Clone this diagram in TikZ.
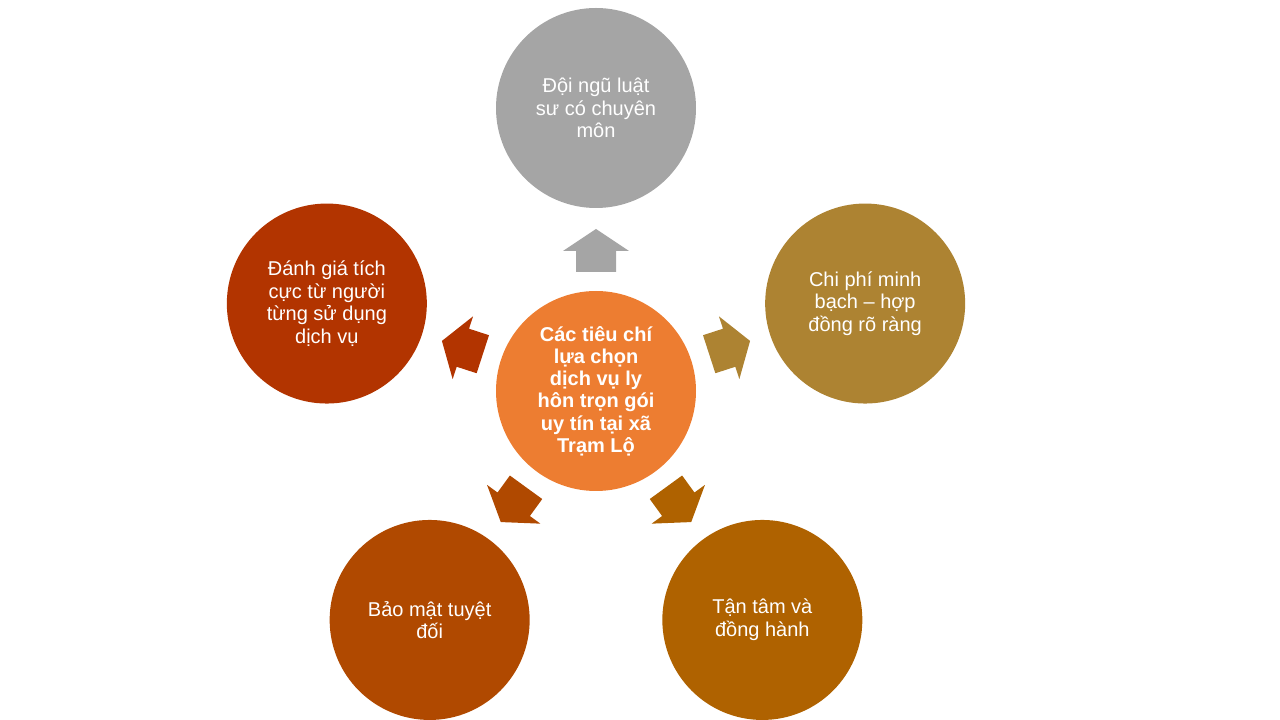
\documentclass[tikz,border=0pt]{standalone}
\usepackage{fontspec}
\setmainfont{Liberation Sans}
\usetikzlibrary{calc, math}

\definecolor{cam}{HTML}{ED7D31}
\definecolor{xam}{HTML}{A5A5A5}
\definecolor{vang}{HTML}{AD8332}
\definecolor{nau}{HTML}{AF6200}
\definecolor{naudo}{HTML}{B04900}
\definecolor{do}{HTML}{B23400}

\begin{document}
\begin{tikzpicture}[x=0.75pt, y=0.75pt,
  vong/.style={circle, fill=#1, minimum size=150pt, inner sep=0pt, text=white, align=center,
    font=\fontsize{15}{16.9}\selectfont}]

\tikzmath{
			\R = 283;
			\ra = 119; \rb = 140; \rc = 162;
			\w = 20; \h = 33;
          }

\useasboundingbox (-596,-329) rectangle (684,391);

\node[vong=cam, font=\fontsize{15}{16.7}\selectfont\bfseries] (tieuchi) at (0,0)
  {Các tiêu chí\\lựa chọn\\dịch vụ ly\\hôn trọn gói\\uy tín tại xã\\Trạm Lộ};

\node[vong=xam]   (doingu)  at (90:\R)   {Đội ngũ luật\\sư có chuyên\\môn};
\node[vong=vang]  (chiphi)  at (18:\R)   {Chi phí minh\\bạch – hợp\\đồng rõ ràng};
\node[vong=nau]   (tantam)  at (-54:\R)  {Tận tâm và\\đồng hành};
\node[vong=naudo] (baomat)  at (-126:\R) {Bảo mật tuyệt\\đối};
\node[vong=do]    (danhgia) at (162:\R)  {Đánh giá tích\\cực từ người\\từng sử dụng\\dịch vụ};

% mui ten khoi tu tam ra ngoai
\foreach \g/\c in {90/xam, 18/vang, -54/nau, -126/naudo, 162/do}
  \fill[\c, shift={(tieuchi.center)}, rotate=\g-90]
    (-\w,\ra) -- (-\w,\rb) -- (-\h,\rb) -- (0,\rc) -- (\h,\rb) -- (\w,\rb) -- (\w,\ra) -- cycle;

\end{tikzpicture}
\end{document}
